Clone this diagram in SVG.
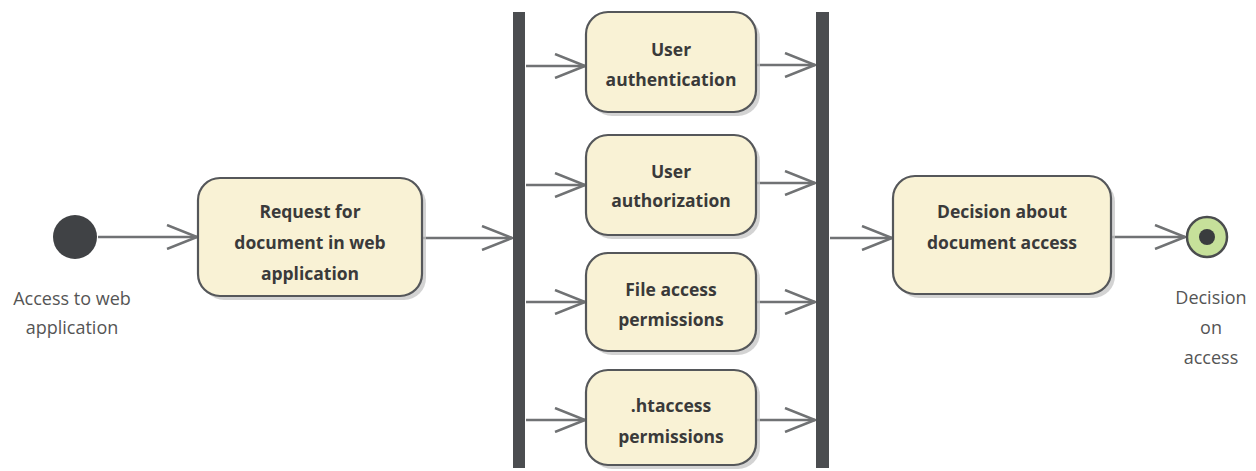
<svg xmlns="http://www.w3.org/2000/svg" width="1256" height="471" viewBox="0 0 1256 471">
  <style>
    .act { fill: #f9f2d5; stroke: #55575a; stroke-width: 2.2; }
    .shadow { fill: #c4c4c4; opacity: 0.75; }
    .bar { fill: #4b4d50; }
    .lbl { font-family: "Open Sans", "Noto Sans", sans-serif; font-weight: 700; font-size: 17.5px; fill: #3a3a3a; text-anchor: middle; }
    .cap { font-family: "Open Sans", "Noto Sans", sans-serif; font-size: 18px; fill: #555; text-anchor: middle; }
    .edge { fill: none; stroke: #707274; stroke-width: 2.5; }
  </style>
  <defs>
    <marker id="open" viewBox="0 0 32 26" refX="31" refY="13" markerWidth="32" markerHeight="26" markerUnits="userSpaceOnUse" orient="auto">
      <path d="M1,1 L31,13 L1,25" fill="none" stroke="#707274" stroke-width="2.5"/>
    </marker>
  </defs>

  <rect width="1256" height="471" fill="#ffffff"/>

  <!-- connectors -->
  <g id="connectors">
    <line class="edge" x1="98" y1="237" x2="197" y2="237" marker-end="url(#open)"/>
    <line class="edge" x1="423" y1="238" x2="512" y2="238" marker-end="url(#open)"/>
    <line class="edge" x1="526" y1="66" x2="585" y2="66" marker-end="url(#open)"/>
    <line class="edge" x1="526" y1="185" x2="585" y2="185" marker-end="url(#open)"/>
    <line class="edge" x1="526" y1="302" x2="585" y2="302" marker-end="url(#open)"/>
    <line class="edge" x1="526" y1="420" x2="585" y2="420" marker-end="url(#open)"/>
    <line class="edge" x1="757" y1="65" x2="815" y2="65" marker-end="url(#open)"/>
    <line class="edge" x1="757" y1="183" x2="815" y2="183" marker-end="url(#open)"/>
    <line class="edge" x1="757" y1="302" x2="815" y2="302" marker-end="url(#open)"/>
    <line class="edge" x1="757" y1="420" x2="815" y2="420" marker-end="url(#open)"/>
    <line class="edge" x1="830" y1="238" x2="892" y2="238" marker-end="url(#open)"/>
    <line class="edge" x1="1112" y1="237" x2="1185" y2="237" marker-end="url(#open)"/>
  </g>

  <!-- start -->
  <g id="start">
    <circle cx="75" cy="237" r="22" fill="#404245"/>
    <text class="cap" x="72" y="305">Access to web</text>
    <text class="cap" x="72" y="334">application</text>
  </g>

  <!-- request -->
  <g id="request">
    <rect class="shadow" x="202" y="182" width="224" height="118" rx="22"/>
    <rect class="act" x="198" y="178" width="224" height="118" rx="22"/>
    <text class="lbl" x="310" y="218">Request for</text>
    <text class="lbl" x="310" y="249">document in web</text>
    <text class="lbl" x="310" y="280">application</text>
  </g>

  <!-- fork -->
  <g id="fork">
    <rect class="bar" x="513" y="12" width="12" height="456"/>
  </g>

  <g id="authentication">
    <rect class="shadow" x="590" y="16" width="170" height="100" rx="22"/>
    <rect class="act" x="586" y="12" width="170" height="100" rx="22"/>
    <text class="lbl" x="671" y="56">User</text>
    <text class="lbl" x="671" y="86">authentication</text>
  </g>

  <g id="authorization">
    <rect class="shadow" x="590" y="139" width="170" height="100" rx="22"/>
    <rect class="act" x="586" y="135" width="170" height="100" rx="22"/>
    <text class="lbl" x="671" y="178">User</text>
    <text class="lbl" x="671" y="207">authorization</text>
  </g>

  <g id="file-permissions">
    <rect class="shadow" x="590" y="257" width="170" height="98" rx="22"/>
    <rect class="act" x="586" y="253" width="170" height="98" rx="22"/>
    <text class="lbl" x="671" y="296">File access</text>
    <text class="lbl" x="671" y="326">permissions</text>
  </g>

  <g id="htaccess-permissions">
    <rect class="shadow" x="590" y="374" width="170" height="95" rx="22"/>
    <rect class="act" x="586" y="370" width="170" height="95" rx="22"/>
    <text class="lbl" x="671" y="412">.htaccess</text>
    <text class="lbl" x="671" y="443">permissions</text>
  </g>

  <!-- join -->
  <g id="join">
    <rect class="bar" x="816" y="12" width="13" height="456"/>
  </g>

  <g id="decision">
    <rect class="shadow" x="897" y="180" width="218" height="118" rx="22"/>
    <rect class="act" x="893" y="176" width="218" height="118" rx="22"/>
    <text class="lbl" x="1002" y="218">Decision about</text>
    <text class="lbl" x="1002" y="249">document access</text>
  </g>

  <!-- final -->
  <g id="final">
    <circle cx="1207" cy="237" r="20" fill="#c6e09a" stroke="#4a4c4e" stroke-width="2.5"/>
    <circle cx="1207" cy="237" r="8" fill="#3a3c3e"/>
    <text class="cap" x="1211" y="304">Decision</text>
    <text class="cap" x="1211" y="334">on</text>
    <text class="cap" x="1211" y="364">access</text>
  </g>
</svg>
